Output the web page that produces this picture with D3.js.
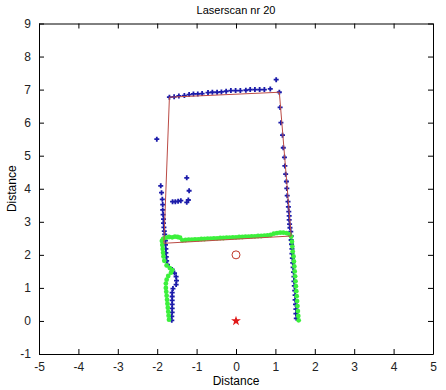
<!DOCTYPE html>
<html lang="en">
<head>
    <meta charset="UTF-8">
    <title>Laserscan nr 20</title>
    <script src="https://d3js.org/d3.v7.min.js"></script>
    <style>
        body {
            margin: 0;
            padding: 0;
            background-color: white;
            font-family: 'Liberation Sans', Arial, sans-serif;
        }
        svg { display: block; }
        .tick text { font-size: 12px; fill: #222; }
    </style>
</head>
<body>
    <svg width="446" height="390"></svg>

    <script>
        // axis ticks
        const xTicks = [-5, -4, -3, -2, -1, 0, 1, 2, 3, 4, 5];
        const yTicks = [-1, 0, 1, 2, 3, 4, 5, 6, 7, 8, 9];

        // raw laser scan points (blue)
        const scanX = [
            -2.01,
            -1.91, -1.89, -1.87, -1.86, -1.86, -1.85, -1.84, -1.84, -1.83, -1.82, -1.81, -1.80, -1.79,
            -1.79, -1.78, -1.78, -1.77, -1.76, -1.74, -1.62, -1.56, -1.52, -1.51, -1.52, -1.60, -1.62,
            -1.62, -1.62, -1.62, -1.62, -1.62, -1.63, -1.63,
            -1.25, -1.19, -1.21, -1.25, -1.61, -1.54, -1.47, -1.40,
            -1.69, -1.57, -1.45, -1.31, -1.19, -1.08, -0.97, -0.86, -0.71, -0.60, -0.48, -0.37, -0.25,
            -0.13, -0.01, 0.11, 0.25, 0.36, 0.48, 0.60, 0.72, 0.87, 1.02,
            1.10, 1.12, 1.14, 1.18, 1.20, 1.23, 1.24, 1.26, 1.28, 1.29, 1.30, 1.32, 1.33, 1.34, 1.35,
            1.35, 1.36, 1.37, 1.39, 1.40,
            1.40, 1.41, 1.42, 1.42, 1.43, 1.44, 1.45, 1.46, 1.47, 1.47, 1.48, 1.49, 1.50, 1.50, 1.51,
            1.52, 1.52, 1.53
        ];
        const scanY = [
            5.50,
            4.09, 3.88, 3.68, 3.52, 3.36, 3.22, 3.08, 2.96, 2.83, 2.72, 2.62, 2.53, 2.43,
            2.30, 2.18, 2.06, 1.94, 1.82, 1.70, 1.56, 1.45, 1.34, 1.22, 1.10, 0.98, 0.86,
            0.74, 0.62, 0.50, 0.38, 0.26, 0.14, 0.02,
            4.33, 3.94, 3.66, 3.59, 3.61, 3.61, 3.62, 3.64,
            6.77, 6.78, 6.81, 6.82, 6.85, 6.87, 6.87, 6.88, 6.91, 6.92, 6.92, 6.93, 6.95,
            6.97, 6.97, 6.97, 6.98, 7.00, 7.00, 7.00, 7.00, 7.02, 7.30,
            6.92, 6.46, 6.00, 5.62, 5.24, 4.95, 4.69, 4.44, 4.22, 4.01, 3.79, 3.61, 3.45, 3.31, 3.18,
            3.06, 2.93, 2.82, 2.70, 2.57,
            2.45, 2.32, 2.18, 2.04, 1.90, 1.76, 1.62, 1.48, 1.34, 1.20, 1.06, 0.92, 0.78, 0.64, 0.50,
            0.36, 0.22, 0.08
        ];

        // second scan (green)
        const greenX = [
            -1.88, -1.87, -1.86, -1.85, -1.84, -1.82, -1.76, -1.68, -1.62, -1.65, -1.72, -1.76, -1.78,
            -1.78, -1.77, -1.76, -1.75, -1.74, -1.73, -1.72, -1.71, -1.70,
            -1.85, -1.78, -1.70, -1.62, -1.55, -1.48, -1.42, -1.36, -1.28, -1.20, -1.12, -1.04, -0.96,
            -0.88, -0.80, -0.72, -0.64, -0.56, -0.48, -0.40, -0.32, -0.24, -0.16, -0.08, 0.00, 0.08,
            0.16, 0.24, 0.32, 0.40, 0.48, 0.56, 0.64, 0.72, 0.80, 0.88, 0.96, 1.04, 1.12, 1.20, 1.28,
            1.35,
            1.40, 1.42, 1.43, 1.44, 1.46, 1.47, 1.48, 1.49, 1.50, 1.51, 1.52, 1.53, 1.54, 1.55, 1.56,
            1.57, 1.58, 1.59
        ];
        const greenY = [
            2.42, 2.30, 2.18, 2.06, 1.95, 1.82, 1.68, 1.60, 1.54, 1.46, 1.36, 1.25, 1.13,
            1.00, 0.88, 0.76, 0.64, 0.52, 0.40, 0.28, 0.16, 0.04,
            2.48, 2.52, 2.54, 2.53, 2.55, 2.54, 2.52, 2.44, 2.45, 2.46, 2.46, 2.47, 2.47,
            2.48, 2.48, 2.49, 2.49, 2.50, 2.50, 2.51, 2.51, 2.52, 2.52, 2.53, 2.53, 2.54,
            2.54, 2.55, 2.55, 2.56, 2.56, 2.57, 2.57, 2.58, 2.59, 2.60, 2.64, 2.66, 2.67, 2.67, 2.66,
            2.63,
            2.55, 2.40, 2.25, 2.10, 1.95, 1.80, 1.65, 1.50, 1.35, 1.20, 1.05, 0.90, 0.75, 0.60, 0.45,
            0.30, 0.15, 0.02
        ];

        // fitted walls (red outline)
        const wallX = [-1.83, -1.69, 1.10, 1.40, -1.83];
        const wallY = [2.35, 6.77, 6.92, 2.57, 2.35];

        // robot position and goal
        const robot = [0, 0];
        const goal = [0, 2];

        const svg = d3.select("svg"),
              margin = {top: 23.5, right: 13, bottom: 36, left: 39},
              width = 446 - margin.left - margin.right,
              height = 390 - margin.top - margin.bottom,
              g = svg.append("g").attr("transform", `translate(${margin.left},${margin.top})`);

        const x = d3.scaleLinear().domain([-5, 5]).range([0, width]),
              y = d3.scaleLinear().domain([-1, 9]).range([height, 0]);

        const fmt = d => String(d); // plain hyphen, like matlab

        // axes, ticks pointing inward like matlab
        g.append("g")
            .attr("transform", `translate(0,${height})`)
            .call(d3.axisBottom(x).tickValues(xTicks).tickFormat(fmt).tickSizeInner(-5).tickSizeOuter(0).tickPadding(8));
        g.append("g")
            .call(d3.axisTop(x).tickValues(xTicks).tickSizeInner(-5).tickSizeOuter(0).tickFormat(""));
        g.append("g")
            .call(d3.axisLeft(y).tickValues(yTicks).tickFormat(fmt).tickSizeInner(-5).tickSizeOuter(0).tickPadding(8));
        g.append("g")
            .attr("transform", `translate(${width},0)`)
            .call(d3.axisRight(y).tickValues(yTicks).tickSizeInner(-5).tickSizeOuter(0).tickFormat(""));
        g.selectAll(".domain").attr("stroke", "#000");
        g.selectAll(".tick line").attr("stroke", "#000");
        g.selectAll(".tick text").attr("font-family", "'Liberation Sans', Arial, sans-serif");

        // blue scan points as "+" markers
        const scan = scanX.map((v, i) => ({x: v, y: scanY[i]}));
        g.selectAll(".scan")
            .data(scan)
            .enter().append("path")
            .attr("class", "scan")
            .attr("transform", d => `translate(${x(d.x)},${y(d.y)})`)
            .attr("d", "M-2.5,0H2.5M0,-2.5V2.5")
            .attr("stroke", "#1c1caa")
            .attr("stroke-width", 1.8);

        // green scan
        const green = greenX.map((v, i) => ({x: v, y: greenY[i]}));
        g.selectAll(".green")
            .data(green)
            .enter().append("circle")
            .attr("class", "green")
            .attr("cx", d => x(d.x))
            .attr("cy", d => y(d.y))
            .attr("r", 2.4)
            .attr("fill", "#3cf03c");

        // walls
        const line = d3.line().x(d => x(d[0])).y(d => y(d[1]));
        g.append("path")
            .datum(wallX.map((v, i) => [v, wallY[i]]))
            .attr("d", line)
            .attr("fill", "none")
            .attr("stroke", "#bb4b45")
            .attr("stroke-width", 1);

        // goal circle
        g.append("circle")
            .attr("cx", x(goal[0]))
            .attr("cy", y(goal[1]))
            .attr("r", 4)
            .attr("fill", "none")
            .attr("stroke", "#c0392b")
            .attr("stroke-width", 1);

        // robot star
        g.append("path")
            .attr("transform", `translate(${x(robot[0])},${y(robot[1])})`)
            .attr("d", d3.symbol().type(d3.symbolStar).size(30))
            .attr("fill", "#e01818");

        // labels
        svg.append("text")
            .attr("x", margin.left + width / 2)
            .attr("y", 14)
            .attr("text-anchor", "middle")
            .attr("font-size", "11px")
            .text("Laserscan nr 20");

        svg.append("text")
            .attr("x", margin.left + width / 2)
            .attr("y", 385)
            .attr("text-anchor", "middle")
            .attr("font-size", "12px")
            .text("Distance");

        svg.append("text")
            .attr("transform", `translate(16,${margin.top + height / 2}) rotate(-90)`)
            .attr("text-anchor", "middle")
            .attr("font-size", "12px")
            .text("Distance");
    </script>
</body>
</html>
